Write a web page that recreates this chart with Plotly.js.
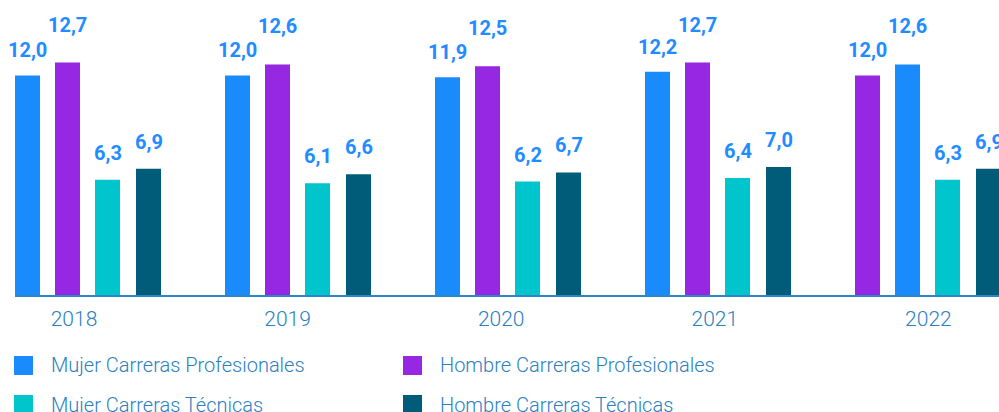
<!DOCTYPE html>
<html>
<head>
<meta charset="utf-8">
<script src="https://cdn.plot.ly/plotly-3.0.1.min.js"></script>
<style>html,body{margin:0;padding:0;background:#fff;}#chart{width:999px;height:412px;}</style>
</head>
<body>
<div id="chart"></div>
<script>
// ---- data ----
const years = ['2018', '2019', '2020', '2021', '2022'];
const seriesNames = ['Mujer Carreras Profesionales', 'Hombre Carreras Profesionales', 'Mujer Carreras Técnicas', 'Hombre Carreras Técnicas'];
const mujerProf = [12.0, 12.0, 11.9, 12.2, 12.6];
const hombreProf = [12.7, 12.6, 12.5, 12.7, 12.0];
const mujerTec = [6.3, 6.1, 6.2, 6.4, 6.3];
const hombreTec = [6.9, 6.6, 6.7, 7.0, 6.9];

// ---- styling / layout ----
const colors = ['#1a8bfd', '#9627e2', '#00c5cd', '#005c78'];
const seriesValues = [mujerProf, hombreProf, mujerTec, hombreTec];
// slot of each series inside each year group (2022 shows the two first bars swapped)
const slotOrder = [[0,1,2,3],[0,1,2,3],[0,1,2,3],[0,1,2,3],[1,0,2,3]];
const PX = 210;                 // pixels per category
const slotLeft = [-73, -33, 7, 48]; // px from group centre
const barW = 25;
const labelShift = [11, 24, 13, 13];
const plotLeft = 15, plotW = 984, plotH = 295;
const xr0 = -73 / PX;

const traces = seriesValues.map((vals, s) => ({
  type: 'bar',
  name: seriesNames[s],
  x: years.map((y, i) => i),
  y: vals,
  width: years.map(() => barW / PX),
  offset: years.map((y, i) => slotLeft[slotOrder[i][s]] / PX),
  marker: {color: colors[s]},
  showlegend: false,
  hoverinfo: 'name+y'
}));

const fmt = v => v.toFixed(1).replace('.', ',');
const annotations = [];
seriesValues.forEach((vals, s) => {
  vals.forEach((v, i) => {
    const slot = slotOrder[i][s];
    annotations.push({
      x: i + (slotLeft[slot] + barW / 2) / PX, y: v, xref: 'x', yref: 'y',
      text: fmt(v), showarrow: false, yanchor: 'bottom', xanchor: 'center',
      yshift: labelShift[slot],
      font: {family: 'Roboto, sans-serif', size: 20, weight: 700, color: '#1f8cff'}
    });
  });
});

// manual legend (squares 19x19)
const px2x = p => (p - plotLeft) / plotW;
const px2y = p => (plotH - p) / plotH;
const legPos = [[14, 356], [403, 356], [14, 395], [403, 395]];
const shapes = [];
seriesNames.forEach((n, s) => {
  const [lx, ly] = legPos[s];
  shapes.push({type: 'rect', xref: 'paper', yref: 'paper',
    x0: px2x(lx), x1: px2x(lx + 19), y0: px2y(ly), y1: px2y(ly + 19),
    fillcolor: colors[s], line: {width: 0}});
  annotations.push({xref: 'paper', yref: 'paper', x: px2x(lx + 35), y: px2y(ly + 9.5),
    xanchor: 'left', yanchor: 'middle', text: n, showarrow: false,
    font: {family: 'Roboto', size: 20, weight: 300, color: '#2b80c0'}});
});

// tick labels are evenly spaced at ~213.6 px starting at 74 px
const tickPix = years.map((y, i) => 74 + 213.6 * i);
const tickvals = tickPix.map(p => (p - 88) / PX);

const layout = {
  width: 999, height: 412,
  margin: {l: plotLeft, r: 0, t: 0, b: 412 - plotH, pad: 0},
  paper_bgcolor: '#ffffff', plot_bgcolor: '#ffffff',
  barmode: 'overlay',
  showlegend: false,
  xaxis: {
    type: 'linear', range: [xr0, xr0 + plotW / PX],
    tickvals: tickvals, ticktext: years, ticks: '',
    ticklabelstandoff: 4,
    showgrid: false, zeroline: false,
    showline: true, linecolor: '#2a88c8', linewidth: 2,
    tickfont: {family: 'Roboto', size: 21, weight: 300, color: '#2b80c0'},
    fixedrange: true
  },
  yaxis: {
    range: [0, plotH / 18.3], visible: false, showgrid: false, zeroline: false, fixedrange: true
  },
  annotations: annotations,
  shapes: shapes
};

Plotly.newPlot('chart', traces, layout, {displayModeBar: false, staticPlot: true});
</script>
</body>
</html>
